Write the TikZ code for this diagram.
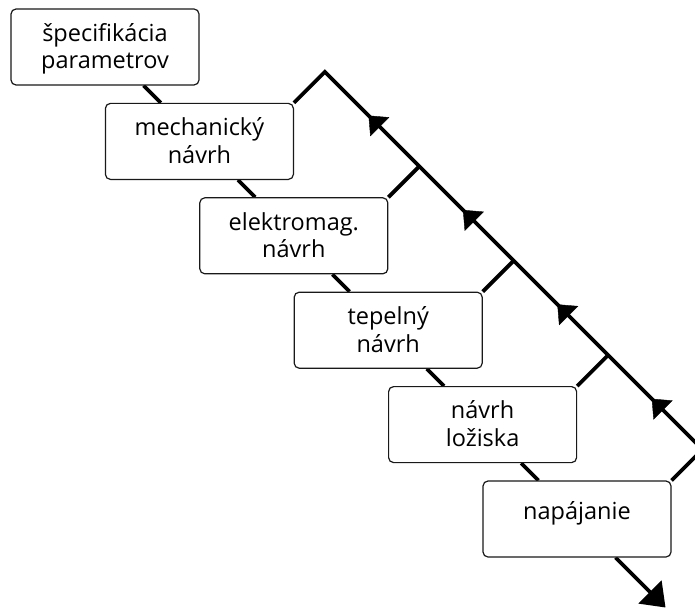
\documentclass[tikz,border=0pt]{standalone}
\usepackage{fontspec}
\setmainfont{Open Sans}
\usetikzlibrary{arrows.meta,decorations.markings,backgrounds}
\newcommand{\twolines}[2]{\begin{tabular}[t]{@{}c@{}}#1\\#2\end{tabular}}
\begin{document}
\begin{tikzpicture}[x=1pt,y=-1pt,
  box/.style={draw=black!90, line width=1.2pt, rounded corners=5pt, fill=white,
    minimum width=188pt, minimum height=76pt, inner sep=0pt,
    font=\fontsize{23.5}{27.7}\selectfont},
  boxtwo/.style={box, text height=0pt, text depth=11.4pt},
  boxone/.style={box, text height=0pt, text depth=0pt},
  flow/.style={line width=3.8pt, black},
  midarrow/.style={postaction={decorate}, decoration={markings,
    mark=at position 0.54 with {\arrow{Triangle[length=16pt,width=27pt]}}}}]
\useasboundingbox (0,0) rectangle (695,607);
\clip (0,0) rectangle (695,607);
\node[boxtwo] (b1) at (105,47) {\twolines{špecifikácia}{parametrov}};
\node[boxtwo] (b2) at (199.4,141.4) {\twolines{mechanický}{návrh}};
\node[boxtwo] (b3) at (293.8,235.8) {\twolines{elektromag.}{návrh}};
\node[boxtwo] (b4) at (388.2,330.2) {\twolines{tepelný}{návrh}};
\node[boxtwo] (b5) at (482.6,424.6) {\twolines{návrh}{ložiska}};
\node[boxone] (b6) at (577,519) {napájanie};
\coordinate (P) at (324.9,71.9);
\coordinate (J3) at (419.3,166.3);
\coordinate (J4) at (513.7,260.7);
\coordinate (J5) at (608.1,355.1);
\coordinate (C) at (702.5,449.5);
\coordinate (E) at (665.5,607.5);
\begin{scope}[on background layer]
\draw[flow] (b1) -- (b2);
\draw[flow] (b2) -- (b3);
\draw[flow] (b3) -- (b4);
\draw[flow] (b4) -- (b5);
\draw[flow] (b5) -- (b6);
\draw[flow, -{Triangle[length=22pt,width=32pt]}] (b6) -- (E);
\draw[flow, line join=miter] (b2.north east) -- (P) -- (C) -- (b6.north east);
\draw[flow] (b3.north east) -- (J3);
\draw[flow] (b4.north east) -- (J4);
\draw[flow] (b5.north east) -- (J5);
\path[midarrow] (J3) -- (P);
\path[midarrow] (J4) -- (J3);
\path[midarrow] (J5) -- (J4);
\path[midarrow] (C) -- (J5);
\end{scope}
\end{tikzpicture}
\end{document}
